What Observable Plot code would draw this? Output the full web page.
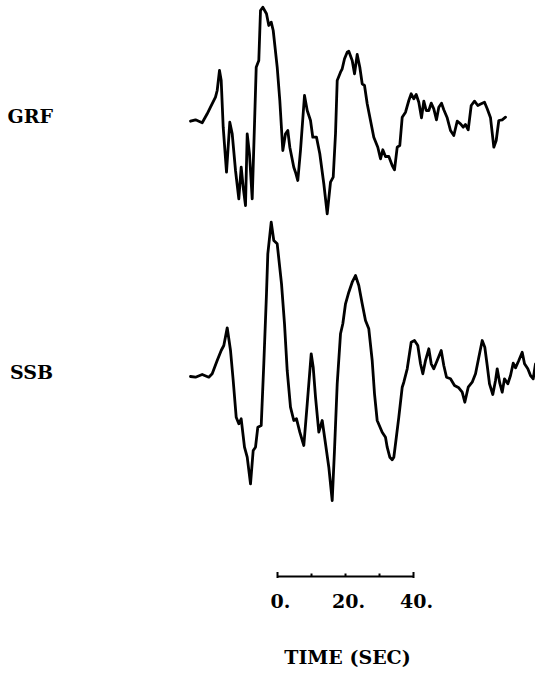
<!DOCTYPE html>
<html>
<head>
<meta charset="utf-8">
<script src="https://cdn.jsdelivr.net/npm/d3@7"></script>
<script src="https://cdn.jsdelivr.net/npm/@observablehq/plot@0.6"></script>
<style>
  html, body { margin: 0; padding: 0; background: #fff; }
  #chart svg { display: block; }
</style>
</head>
<body>
<div id="chart"></div>
<script>
// Station names and vertical offsets of each trace (amplitude units)
const stations = ["GRF", "SSB"];
const stationOffsets = [0, -255.5];

// GRF trace: time (s) and amplitude (arbitrary units)
const grfTime = [-25.59,-24.12,-22.15,-20.68,-19.71,-18.24,-17.74,-17.06,-16.56,-15.97,-15.0,-14.03,-13.32,-12.35,-11.38,-10.68,-10.09,-9.41,-8.91,-8.24,-7.44,-6.76,-6.26,-5.5,-5.0,-4.32,-3.24,-2.56,-1.85,-1.26,-0.09,0.68,1.56,2.35,3.03,3.62,4.79,5.29,5.97,6.76,7.94,8.74,9.71,10.38,11.47,12.44,13.62,14.62,15.59,16.38,17.06,17.56,18.53,19.03,19.71,20.5,20.97,21.97,22.65,23.44,24.21,24.91,25.59,26.38,27.35,28.32,29.5,30.29,30.97,31.76,32.74,33.74,34.41,35.21,35.97,36.68,37.65,38.62,39.32,40.09,40.79,41.56,42.35,43.03,43.74,44.5,45.21,45.97,46.76,47.44,48.24,48.91,49.91,50.88,51.85,52.85,53.82,54.62,55.29,56.09,56.97,57.94,58.91,59.91,60.88,61.68,62.65,63.62,64.32,65.09,66.09,67.06];
const grfAmp = [-0.2,1.2,-1.8,7.2,13.8,23.8,30.5,50.5,40.5,-6.2,-51.2,-1.2,-12.8,-49.5,-77.8,-46.2,-66.2,-84.5,-12.8,-32.8,-77.8,-2.8,53.8,60.5,110.5,113.8,107.2,95.5,98.8,90.5,53.8,20.5,-29.5,-12.8,-9.5,-26.2,-46.2,-51.2,-59.5,-29.5,25.5,10.5,0.5,-16.2,-16.2,-32.8,-62.8,-92.8,-61.2,-56.2,-12.8,40.5,48.8,52.2,62.2,68.8,69.8,60.5,47.2,66.5,53.8,37.2,35.5,17.2,0.5,-16.2,-26.2,-37.8,-28.8,-35.5,-35.5,-44.5,-48.8,-26.2,-24.5,3.8,8.8,20.5,27.2,22.2,26.5,18.8,3.2,19.8,10.5,10.5,17.8,12.2,1.2,13.8,17.8,11.2,3.2,-9.5,-14.5,-0.2,-2.8,-6.2,-3.5,-8.8,15.5,19.8,15.5,17.2,18.8,12.2,3.2,-26.2,-19.5,0.5,1.2,3.8];

// SSB trace: time (s) and amplitude (arbitrary units)
const ssbTime = [-25.59,-24.12,-22.15,-20.21,-19.21,-17.74,-16.56,-15.79,-14.79,-13.82,-13.03,-12.15,-11.38,-10.68,-9.71,-8.91,-7.94,-7.15,-6.47,-5.79,-4.79,-4.03,-3.24,-2.85,-1.85,-1.09,-0.09,1.18,2.06,2.85,3.82,4.79,5.59,6.56,7.74,8.74,9.91,10.5,11.18,12.15,13.15,14.12,15.09,16.09,16.76,17.56,18.53,19.21,20.0,20.97,21.97,22.94,23.91,24.91,25.88,26.85,27.85,28.53,29.32,30.79,31.76,32.26,33.03,33.74,34.21,34.71,35.68,36.68,37.15,38.15,39.32,40.29,41.26,42.06,42.74,43.53,44.5,45.21,45.97,46.97,48.15,48.91,49.71,50.88,52.06,53.32,54.32,55.09,56.09,57.26,58.24,59.21,60.21,60.97,61.68,62.35,63.32,64.12,64.62,65.38,66.09,66.76,67.74,68.53,69.32,70.0,70.97,71.97,72.65,73.62,74.41,75.21,75.88];
const ssbAmp = [0,-0.7,2,-0.7,2.7,16,26,31,48.7,26,-4,-40.7,-47.3,-42.3,-70.7,-80.7,-107.3,-74,-70.7,-50.7,-49,12.7,82.7,122.7,154.3,136,132.7,92.7,52.7,6,-30.7,-44,-42.3,-55.7,-69,-27.3,22.7,9.3,-20.7,-55.7,-44,-67.3,-90.7,-124,-74,-7.3,42.7,52.7,72.7,84.3,94.3,101,91,72.7,56,47.7,16,-17.3,-44,-55.7,-60.7,-70.7,-80.7,-83.3,-80.7,-67.3,-40.7,-10.7,-5.7,7.7,34.3,36,31,12.7,2.7,16,27.7,12.7,7.7,16,26,11,-0.7,-2.3,-9,-11.3,-15.7,-25.7,-10.7,-5.7,2.7,19.3,36,29.3,11,-7.3,-18,-4,7.7,-6.7,-15.7,-2.3,-7.3,1,13.3,8.7,16,24.3,12.7,7.7,1,-2.3,12.7];

// Time scale bar
const scaleStart = 0;
const scaleEnd = 40;
const scaleTicks = [0, 10, 20, 30, 40];
const scaleLabels = [0, 20, 40];
const axisTitle = "TIME (SEC)";

// Build tidy rows
const traces = [
  ...grfTime.map((t, i) => ({station: stations[0], t, y: grfAmp[i] + stationOffsets[0]})),
  ...ssbTime.map((t, i) => ({station: stations[1], t, y: ssbAmp[i] + stationOffsets[1]}))
];
const stationRows = stations.map((s, i) => ({s, y: stationOffsets[i] + 4}));

const FONT = "DejaVu Serif";
const FS = 19;
const barY = -455.5;

const chart = Plot.plot({
  width: 535,
  height: 677,
  margin: 0,
  x: {domain: [-81.47, 75.88], axis: null},
  y: {domain: [-556.5, 120.5], axis: null},
  style: {background: "#fff"},
  marks: [
    Plot.line(traces, {x: "t", y: "y", z: "station", stroke: "#000", strokeWidth: 2.8, strokeLinejoin: "round", strokeLinecap: "round"}),
    Plot.text(stationRows, {x: -66.0, y: "y", text: "s", textAnchor: "end", fontFamily: FONT, fontWeight: "bold", fontSize: FS, fill: "#000"}),
    Plot.ruleY([barY], {x1: scaleStart, x2: scaleEnd, stroke: "#000", strokeWidth: 2}),
    Plot.ruleX(scaleTicks, {x: d => d, y1: d => (d === scaleStart || d === scaleEnd) ? barY - 2 : barY, y2: d => (d === scaleStart || d === scaleEnd) ? barY + 4 : barY + 2.5, stroke: "#000", strokeWidth: 2}),
    Plot.text(scaleLabels, {x: d => d, y: -481, dx: 3, text: d => `${d}.`, fontFamily: FONT, fontWeight: "bold", fontSize: FS, fill: "#000"}),
    Plot.text([axisTitle], {x: 20, y: -536.5, dx: 2, text: d => d, fontFamily: FONT, fontWeight: "bold", fontSize: FS, fill: "#000"})
  ]
});
document.getElementById("chart").append(chart);
</script>
</body>
</html>
